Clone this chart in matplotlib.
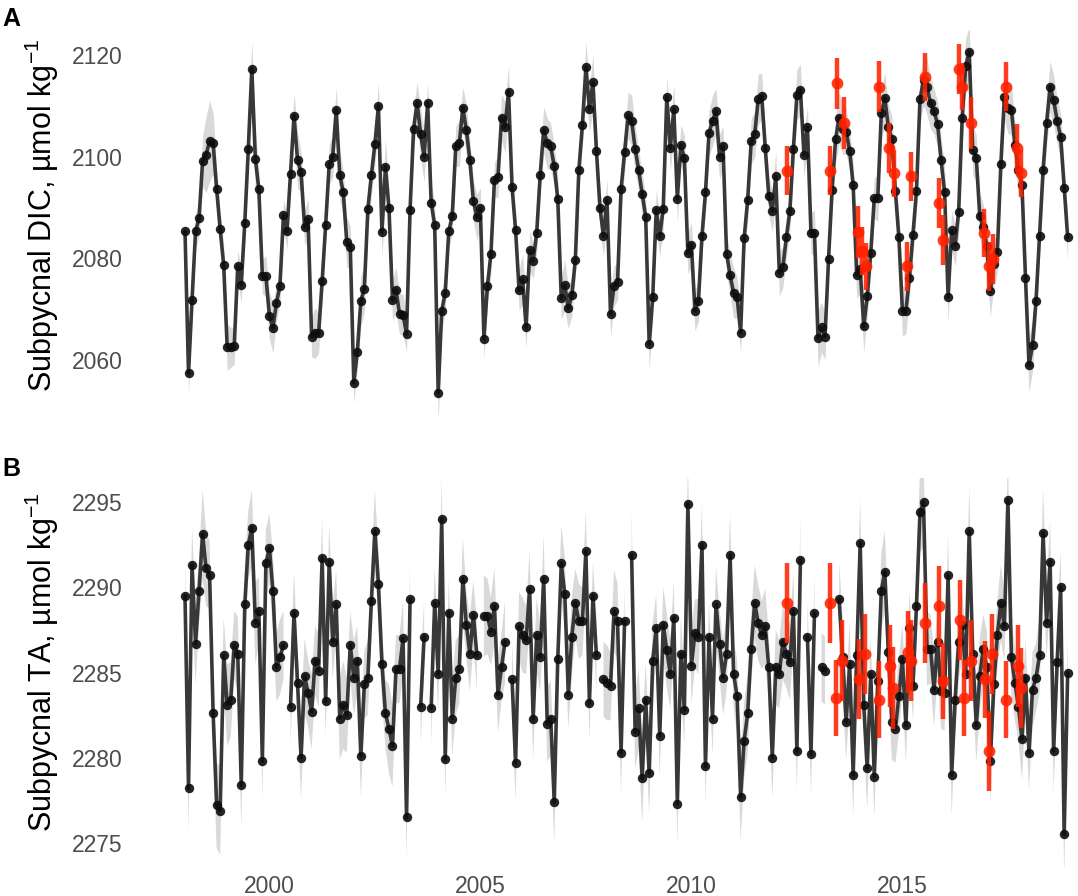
import numpy as np
import matplotlib
matplotlib.use("Agg")
import matplotlib.pyplot as plt

plt.rcParams['font.family'] = ['Liberation Sans', 'DejaVu Sans']
plt.rcParams['mathtext.fontset'] = 'custom'
plt.rcParams['mathtext.rm'] = 'Liberation Sans'
plt.rcParams['mathtext.it'] = 'Liberation Sans:italic'

# ---------------- data ----------------
start_year = 1998
n_months = 252
t = start_year + np.arange(n_months) / 12.0

dic = [
 2085.3,2057.4,2071.8,2085.3,2087.9,2099.1,2100.4,2103.1,2102.6,2093.6,2085.7,2078.7,
 2062.5,2062.5,2062.7,2078.5,2074.8,2087.0,2101.5,2117.3,2099.5,2093.6,2076.5,2076.5,
 2068.7,2066.3,2071.2,2074.6,2088.5,2085.3,2096.6,2108.0,2099.3,2097.0,2086.1,2087.8,
 2064.6,2065.3,2065.3,2075.5,2086.6,2098.5,2100.0,2109.2,2096.4,2093.0,2083.2,2082.3,
 2055.5,2061.6,2071.6,2074.0,2089.7,2096.4,2102.5,2110.0,2085.2,2098.0,2089.9,2071.8,
 2073.8,2069.1,2068.9,2065.1,2089.5,2105.5,2110.6,2104.5,2100.0,2110.6,2090.9,2086.6,
 2053.5,2069.7,2073.2,2085.3,2088.3,2102.1,2102.6,2109.6,2105.3,2099.3,2091.3,2088.1,
 2089.9,2064.2,2074.6,2080.9,2095.5,2096.0,2107.7,2105.8,2112.8,2094.0,2085.6,2073.7,
 2075.9,2066.4,2081.6,2079.5,2084.9,2096.4,2105.3,2102.6,2102.0,2098.1,2091.7,2072.1,
 2074.7,2070.2,2072.7,2079.7,2097.4,2106.2,2117.6,2109.4,2114.6,2101.1,2089.9,2084.4,
 2091.5,2069.1,2074.6,2075.3,2093.6,2100.9,2108.2,2107.1,2101.6,2097.4,2092.7,2088.2,
 2063.2,2072.3,2089.5,2084.4,2089.8,2111.8,2101.7,2109.3,2091.7,2102.3,2099.7,2081.0,
 2082.7,2069.7,2071.6,2084.3,2093.0,2104.6,2107.1,2108.9,2100.0,2102.0,2080.9,2076.7,
 2073.2,2072.3,2065.4,2084.0,2091.5,2103.0,2104.4,2111.3,2111.9,2101.7,2092.3,2089.3,
 2096.1,2077.1,2078.2,2084.1,2089.3,2101.6,2112.1,2113.2,2100.4,2105.8,2085.0,2085.0,
 2064.3,2066.4,2064.6,2079.9,2093.5,2103.4,2107.7,2105.5,2104.9,2101.2,2094.4,2076.7,
 2077.9,2066.6,2072.5,2081.1,2091.8,2091.8,2108.5,2111.5,2105.9,2103.4,2093.2,2084.1,
 2069.7,2069.7,2076.2,2084.6,2093.2,2111.3,2115.1,2113.7,2110.5,2108.9,2106.4,2099.3,
 2093.0,2072.4,2085.5,2082.5,2089.2,2107.7,2117.8,2120.6,2101.3,2099.8,2088.3,2086.1,
 2082.5,2073.5,2078.9,2081.3,2098.5,2111.8,2109.6,2109.2,2102.3,2097.3,2094.4,2076.2,
 2059.0,2062.9,2071.7,2084.4,2097.3,2106.6,2113.8,2111.1,2107.1,2103.9,2093.9,2084.1,
]

dic_ci = [
 3.0,4.0,3.5,3.5,3.5,5.0,7.5,8.0,6.0,4.0,3.5,4.0,
 4.5,4.0,3.5,3.0,3.5,4.0,4.0,5.5,6.0,4.0,3.5,4.0,
 4.5,5.0,3.5,3.5,3.0,3.5,4.0,4.5,5.5,4.0,3.5,4.0,
 4.0,5.0,4.0,3.5,3.0,4.0,4.0,4.5,5.0,4.0,5.0,4.0,
 4.0,3.5,5.0,4.5,4.0,4.0,4.0,4.5,5.0,5.5,3.5,4.0,
 4.5,4.0,4.0,3.5,3.5,4.0,4.0,5.0,5.0,4.0,4.0,4.5,
 6.0,4.0,3.5,3.5,3.5,4.0,4.5,4.0,5.0,4.0,4.0,4.5,
 4.0,4.0,3.5,4.0,3.5,4.0,4.5,5.0,5.0,4.0,4.0,4.0,
 5.0,4.0,4.0,3.5,4.0,4.0,4.5,5.0,4.5,4.0,5.0,4.0,
 5.0,4.0,4.0,3.5,4.0,4.5,5.0,4.5,5.5,4.0,4.0,4.0,
 4.0,4.5,4.0,3.5,4.0,4.0,4.5,5.0,4.5,4.0,4.0,4.0,
 5.0,4.5,4.0,4.0,4.0,4.0,4.5,5.0,4.5,4.0,4.5,4.0,
 4.5,4.0,4.0,3.5,4.0,4.5,5.0,4.5,4.5,4.0,4.0,4.0,
 5.0,4.0,4.0,3.5,4.0,4.5,4.5,5.0,4.5,4.0,4.0,4.0,
 5.0,4.5,4.0,4.0,4.0,4.5,5.0,5.0,4.5,4.0,4.0,4.5,
 5.5,5.0,4.5,4.0,4.5,4.5,5.0,5.0,4.5,4.0,4.5,4.5,
 5.0,5.0,4.0,4.0,4.0,4.5,5.0,5.0,4.5,4.5,4.5,4.5,
 5.0,4.5,4.0,4.0,4.0,4.5,5.0,5.5,5.0,4.5,4.5,4.5,
 5.0,5.0,4.0,4.0,4.5,5.0,5.5,5.0,5.0,4.5,4.5,4.5,
 5.0,5.0,4.5,4.0,4.5,4.5,5.0,5.0,4.5,4.5,4.5,5.0,
 5.5,5.0,4.5,4.0,4.5,4.5,5.0,5.0,4.5,4.5,4.5,4.5,
]

nan = float('nan')
ta = [
 2289.5,2278.2,2291.3,2286.7,2289.8,2293.1,2291.1,2290.7,2282.6,2277.2,2276.9,2286.0,
 2283.1,2283.4,2286.6,2286.1,2278.4,2289.0,2292.5,2293.5,2287.9,2288.6,2279.8,2291.4,
 2292.3,2289.8,2285.3,2285.9,2286.6,nan,2283.0,2288.5,2284.4,2280.0,2284.8,2283.8,
 2282.7,2285.7,2285.1,2291.7,2283.3,2291.5,2286.8,2289.0,2282.3,2283.1,2282.5,2286.6,
 2284.7,2285.7,2280.1,2284.3,2284.7,2289.2,2293.3,2290.2,2285.5,2282.6,2281.7,2280.7,
 2285.2,2285.2,2287.0,2276.5,2289.3,nan,nan,2283.0,2287.1,nan,2282.9,2289.1,
 2284.9,2294.0,2279.9,2288.5,2282.3,2284.7,2285.2,2290.5,2287.8,2286.1,2288.4,2286.0,
 nan,2288.3,2288.3,2287.4,2288.9,2283.7,2285.3,2286.8,nan,2284.6,2279.7,2287.7,
 2287.2,2286.9,2289.9,2282.3,2287.2,2285.9,2290.5,2282.0,2282.3,2277.4,2285.8,2291.4,
 2289.6,2283.7,2287.1,2289.1,2288.0,2288.0,2292.1,2283.2,2289.5,2286.0,nan,2284.6,
 2284.4,2284.2,2288.6,2288.0,2280.3,2288.0,nan,2291.9,2281.5,2282.9,2278.8,2283.4,
 2279.1,2285.7,2287.6,2281.3,2287.8,2286.3,2284.9,2288.2,2277.3,2286.1,2282.8,2294.9,
 2285.4,2287.3,2287.1,2292.5,2279.5,2287.1,2282.3,2289.0,2286.7,2284.7,2286.1,2291.9,
 2284.9,2283.6,2277.7,2281.0,2282.6,2286.4,2289.1,2287.9,2287.2,2287.7,2285.3,2280.0,
 2285.3,2284.9,2286.8,2286.1,2285.6,2288.6,2280.4,2291.6,nan,2287.1,2280.2,2288.5,
 nan,2285.3,2285.1,nan,nan,nan,2289.3,2285.9,2282.1,2285.5,2279.0,2286.0,
 2292.6,2283.1,2279.4,2284.9,2278.9,2284.5,2289.8,2290.9,2286.2,2282.1,2281.7,2283.6,
 2285.8,2281.9,2287.6,2284.2,2288.9,2294.4,2295.0,2286.4,2286.4,2284.0,2286.8,2283.9,
 2283.8,2290.7,2279.0,2283.4,2286.8,2287.8,2284.9,2293.3,2286.1,2281.9,2284.8,2286.4,
 2285.3,2279.8,2284.3,2287.2,2289.1,2287.7,2295.1,2285.9,2284.4,2283.0,2281.1,2284.7,
 2280.3,2284.0,2284.7,2286.0,2293.2,2287.9,2291.5,2280.4,2285.6,2290.0,2275.5,2285.0,
]

ta_ci = [
 1.8,2.5,2.2,2.4,2.0,2.6,2.2,2.0,2.4,2.5,2.6,2.2,
 2.4,2.2,2.0,2.2,2.6,2.4,2.0,2.2,2.4,2.0,2.2,2.0,
 2.0,2.2,2.0,2.2,2.0,2.0,2.2,2.4,2.0,2.4,2.2,2.0,
 2.2,2.0,2.2,2.4,2.0,2.2,2.2,2.0,2.4,2.6,2.2,2.0,
 2.2,2.0,2.4,2.0,2.2,2.2,2.4,2.0,2.2,2.0,2.6,2.4,
 2.0,2.0,2.2,2.4,2.0,2.0,2.0,2.2,2.2,2.0,2.2,2.0,
 2.2,2.4,2.2,2.0,2.2,2.2,2.0,2.4,2.0,2.2,2.0,2.0,
 2.0,2.4,2.2,2.0,2.2,2.2,2.0,2.4,2.0,2.2,2.2,2.0,
 2.2,2.0,2.2,2.4,2.2,2.0,2.6,2.2,2.2,2.4,2.0,2.2,
 2.2,2.0,2.4,2.0,2.2,2.0,2.4,2.2,2.0,2.2,2.0,2.2,
 2.2,2.0,2.4,2.2,2.4,2.0,2.0,2.6,2.2,2.4,2.6,2.2,
 2.4,2.2,2.0,2.4,2.2,2.2,2.0,2.2,2.4,2.2,2.0,2.6,
 2.2,2.0,2.2,2.4,2.2,2.0,2.2,2.2,2.0,2.2,2.2,2.4,
 2.0,2.2,2.6,2.2,2.4,2.0,2.2,2.2,2.0,2.2,2.0,2.4,
 2.2,2.0,2.2,2.0,2.2,2.2,2.4,2.6,2.0,2.2,2.4,2.2,
 2.0,2.0,2.0,2.0,2.0,2.0,2.2,2.4,2.2,2.4,2.4,2.2,
 2.6,2.2,2.4,2.2,2.4,2.0,2.2,2.4,2.2,2.2,2.0,2.2,
 2.0,2.2,2.2,2.0,2.2,2.4,2.6,2.2,2.0,2.2,2.0,2.2,
 2.2,2.4,2.4,2.2,2.2,2.0,2.2,2.6,2.0,2.2,2.2,2.0,
 2.2,2.4,2.2,2.0,2.2,2.0,2.6,2.2,2.2,2.0,2.4,2.2,
 2.2,2.2,2.0,2.2,2.6,2.0,2.4,2.4,2.2,2.2,2.6,2.2,
]

obs_t_dic = [2012.262,2013.278,2013.452,2013.611,2013.944,2014.048,2014.127,2014.444,
             2014.683,2014.802,2015.119,2015.198,2015.532,2015.873,2015.952,2016.349,
             2016.413,2016.627,2016.944,2017.063,2017.143,2017.460,2017.714,2017.802]
obs_dic = [2097.2,2097.2,2114.4,2106.7,2085.2,2081.4,2078.4,2113.8,
           2101.7,2096.7,2078.4,2096.1,2115.7,2090.9,2083.6,2117.3,
           2113.8,2106.7,2085.0,2078.4,2079.9,2113.8,2101.7,2096.7]
obs_dic_err = [4.8,4.8,5.1,5.1,5.1,4.7,4.7,5.1,4.9,4.7,4.9,4.9,
               4.7,4.9,4.9,4.9,4.7,5.1,4.7,4.9,4.9,4.9,4.7,4.7]

obs_t_ta = [2012.262,2013.278,2013.428,2013.572,2013.968,2014.111,2014.444,2014.707,
            2014.786,2015.135,2015.214,2015.532,2015.873,2015.960,2016.365,2016.452,
            2016.627,2016.968,2017.048,2017.119,2017.460,2017.738,2017.802]
obs_ta = [2289.1,2289.1,2283.5,2285.7,2284.6,2286.1,2283.4,2285.4,
          2284.1,2286.2,2285.7,2287.9,2288.9,2284.5,2288.1,2283.5,
          2285.7,2284.6,2280.4,2286.1,2283.4,2285.4,2284.1]
obs_ta_err = [2.35,2.35,2.25,2.35,2.35,2.35,2.25,2.4,2.4,2.4,2.35,2.35,
              2.35,2.25,2.35,2.25,2.35,2.25,2.35,2.35,2.25,2.4,2.35]

dic_ticks = [2060, 2080, 2100, 2120]
ta_ticks = [2275, 2280, 2285, 2290, 2295]
year_ticks = [2000, 2005, 2010, 2015]

# ---------------- figure ----------------
W, H = 1078, 896
fig = plt.figure(figsize=(W / 100, H / 100), dpi=100)

def px_axes(left, top, right, bottom):
    return fig.add_axes([left / W, 1 - bottom / H, (right - left) / W, (bottom - top) / H])

x_left, x_right = 135, 1078
px_per_year = 42.2
xlim = (1998 - (185 - x_left) / px_per_year, 1998 + (x_right - 185) / px_per_year)

line_col = '#383838'
pt_col = '#0d0d0d'
rib_col = '#d9d9d9'
red = '#ff2200'
tick_col = '#4d4d4d'

def draw(ax, y, ci, ot, oy, oe):
    y = np.asarray(y, float)
    ci = np.asarray(ci, float)
    ax.fill_between(t, y - ci, y + ci, color=rib_col, lw=0, zorder=1)
    ax.plot(t, y, color=line_col, lw=2.6, zorder=2, solid_capstyle='round')
    ax.scatter(t, y, s=46, color=pt_col, alpha=0.9, lw=0, zorder=3)
    ax.errorbar(ot, oy, yerr=oe, fmt='o', color=red, ms=8.5, mew=0,
                elinewidth=3.2, capsize=0, alpha=0.88, zorder=4)
    ax.set_xlim(*xlim)
    for s in ax.spines.values():
        s.set_visible(False)
    ax.tick_params(length=0, labelsize=16.5, labelcolor=tick_col, pad=9)

# Panel A : 2120 at y=55 px, 5.083 px per unit, panel from 30 to 415 px
axA = px_axes(x_left, 30, x_right, 415)
draw(axA, dic, dic_ci, obs_t_dic, obs_dic, obs_dic_err)
axA.set_ylim(2120 - (415 - 55) / 5.083, 2120 + (55 - 30) / 5.083)
axA.set_yticks(dic_ticks)
axA.set_xticks([])

# Panel B : 2285 at y=672.5 px, 17.05 px per unit, panel from 478 to 868 px
axB = px_axes(x_left, 478, x_right, 868)
draw(axB, ta, ta_ci, obs_t_ta, obs_ta, obs_ta_err)
axB.set_ylim(2285 - (868 - 672.5) / 17.05, 2285 + (672.5 - 478) / 17.05)
axB.set_yticks(ta_ticks)
axB.set_xticks(year_ticks)
axB.tick_params(axis='x', pad=5)

fig.text(42 / W, 1 - 215 / H, r'Subpycnal DIC, µmol kg$^{-1}$', rotation=90,
         ha='center', va='center', fontsize=22, color='black')
fig.text(42 / W, 1 - 662 / H, r'Subpycnal TA, µmol kg$^{-1}$', rotation=90,
         ha='center', va='center', fontsize=22, color='black')
fig.text(2 / W, 1 - 19 / H, 'A', fontsize=18, fontweight='bold', ha='left', va='center')
fig.text(2 / W, 1 - 469 / H, 'B', fontsize=18, fontweight='bold', ha='left', va='center')

fig.savefig('out.png', dpi=100)
